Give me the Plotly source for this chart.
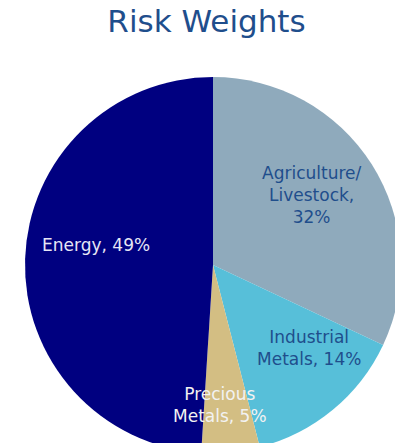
import plotly.graph_objects as go

categories = ["Agriculture/<br>Livestock", "Industrial<br>Metals", "Precious<br>Metals", "Energy"]
weights = [32, 14, 5, 49]
slice_colors = ["#8FAABC", "#57BFD9", "#D3BE83", "#000080"]
label_colors = ["#1F4E8C", "#1F4E8C", "#F2F2F2", "#E6E6F5"]
label_pos = [(311, 195), (309, 348), (220, 405), (95.5, 245.5)]

W, H = 420, 470

fig = go.Figure(go.Pie(
    labels=categories,
    values=weights,
    sort=False,
    direction="clockwise",
    rotation=0,
    marker=dict(colors=slice_colors, line=dict(width=0)),
    textinfo="none",
    hoverinfo="skip",
    showlegend=False,
    domain=dict(x=[25 / W, 401 / W], y=[17 / H, 393 / H]),
))

anns = []
for cat, w, col, (px, py) in zip(categories, weights, label_colors, label_pos):
    txt = cat + ", " + f"{w}%"
    if cat.startswith("Agriculture"):
        txt = cat + ",<br>" + f"{w}%"
    anns.append(dict(
        text=txt, x=px / W, y=1 - py / H, xref="paper", yref="paper",
        xanchor="center", yanchor="middle", showarrow=False,
        font=dict(family="DejaVu Sans", size=17, color=col), align="center",
    ))

fig.update_layout(
    width=W, height=H,
    margin=dict(l=0, r=0, t=0, b=0),
    paper_bgcolor="white",
    title=dict(text="Risk Weights", x=206.5 / W, y=1 - 21 / H, xanchor="center", yanchor="middle",
               xref="paper", yref="paper",
               font=dict(family="DejaVu Sans", size=31, color="#1F4E8C")),
    annotations=anns,
)

fig.write_html("out.html", config={"displayModeBar": False},
               post_script="document.body.style.margin='0';document.body.style.overflow='hidden';document.documentElement.style.overflow='hidden';")
